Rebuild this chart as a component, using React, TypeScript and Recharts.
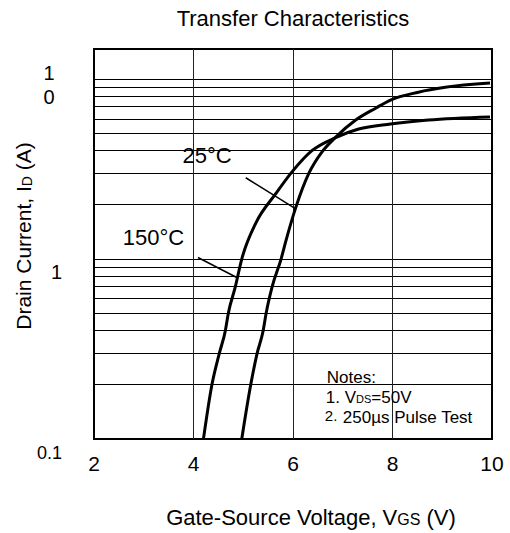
import React from 'react';
import { LineChart, Line, XAxis, YAxis, ReferenceLine, ReferenceArea, ReferenceDot } from 'recharts';

const FONT = '"Liberation Sans", Arial, Helvetica, sans-serif';

// axes
const xDomain = [2, 10];
const yDomain = [0.1, 14.7];
const xTicks = [2, 4, 6, 8, 10];
const yTicks = [0.1, 1, 10];
const yTickLabels = ['0.1', '1', '10'];
const hGrid = [0.2, 0.3, 0.4, 0.5, 0.6, 0.7, 0.8, 0.9, 1, 2, 3, 4, 5, 6, 7, 8, 9, 10];
const vGrid = [4, 6, 8];

// 150 °C curve
const vgs150 = [4.2, 4.37, 4.52, 4.64, 4.7, 4.84, 4.97, 5.25, 5.65, 5.98, 6.38, 6.88, 7.32, 7.96, 8.72, 9.96];
const id150 = [0.1, 0.2, 0.3, 0.4, 0.5, 0.7, 1.0, 1.58, 2.3, 3.05, 4.0, 4.76, 5.28, 5.63, 5.92, 6.16];

// 25 °C curve
const vgs25 = [4.97, 5.15, 5.28, 5.4, 5.46, 5.58, 5.76, 5.86, 6.06, 6.32, 6.58, 6.86, 7.26, 7.66, 7.96, 8.52, 9.06, 9.96];
const id25 = [0.1, 0.2, 0.3, 0.4, 0.5, 0.7, 1.0, 1.27, 1.95, 3.0, 3.93, 4.76, 5.92, 6.89, 7.65, 8.46, 9.0, 9.5];

const data150 = vgs150.map((x, i) => ({ x, y: id150[i] }));
const data25 = vgs25.map((x, i) => ({ x, y: id25[i] }));

// annotations (data coordinates)
const leader25 = [{ x: 5.05, y: 2.83 }, { x: 6.04, y: 1.91 }];
const leader150 = [{ x: 4.09, y: 1.02 }, { x: 4.87, y: 0.79 }];
const label25Pos = { x: 3.78, y: 3.41 };
const label150Pos = { x: 2.58, y: 1.2 };
const notesPos = { x: 6.68, y: 0.205 };
const box25 = { x1: 3.76, x2: 4.8, y1: 3.12, y2: 4.41 };
const boxNotes = { x1: 6.58, x2: 9.76, y1: 0.108, y2: 0.268 };

const XTick = (props: any) => {
  const { x, y, payload } = props;
  return (
    <text x={x} y={y + 32} textAnchor="middle" fontFamily={FONT} fontSize={21} fill="#000">
      {payload.value}
    </text>
  );
};

const YTick = (props: any) => {
  const { x, y, payload, index } = props;
  const label = yTickLabels[index] ?? String(payload.value);
  if (label.length === 2) {
    return (
      <g>
        <text x={x - 45} y={y + 1} textAnchor="middle" fontFamily={FONT} fontSize={20} fill="#000">{label[0]}</text>
        <text x={x - 45} y={y + 25} textAnchor="middle" fontFamily={FONT} fontSize={20} fill="#000">{label[1]}</text>
      </g>
    );
  }
  return (
    <text x={x - 32} y={y + 20} textAnchor="end" fontFamily={FONT} fontSize={label === '0.1' ? 18 : 20} fill="#000">
      {label}
    </text>
  );
};

const center = (vb: any) => ({ cx: vb.x + (vb.width || 0) / 2, cy: vb.y + (vb.height || 0) / 2 });

const TempLabel = (text: string) => (props: any) => {
  const { cx, cy } = center(props.viewBox);
  return (
    <text x={cx} y={cy} fontFamily={FONT} fontSize={22} fill="#000">{text}</text>
  );
};

const NotesLabel = (props: any) => {
  const { cx, cy } = center(props.viewBox);
  return (
    <g fontFamily={FONT} fill="#000">
      <text x={cx} y={cy} fontSize={17}>Notes:</text>
      <text x={cx - 1} y={cy + 20} fontSize={17}>
        1. V<tspan fontSize={11}>DS</tspan>=50V
      </text>
      <text x={cx - 2} y={cy + 38} fontSize={15}>2.</text>
      <text x={cx + 16} y={cy + 40} fontSize={17}>250µs Pulse Test</text>
    </g>
  );
};

const YAxisLabel = (props: any) => {
  const vb = props.viewBox;
  const cx = vb.x - 11;
  const cy = vb.y + vb.height / 2 - 8;
  return (
    <text x={cx} y={cy} transform={`rotate(-90 ${cx} ${cy})`} textAnchor="middle" dominantBaseline="central" fontFamily={FONT} fontSize={21} fill="#000">
      Drain Current, I<tspan fontSize={14} dy={4}>D</tspan><tspan dy={-4}> (A)</tspan>
    </text>
  );
};

const XAxisLabel = (props: any) => {
  const vb = props.viewBox;
  const cx = vb.x + vb.width / 2 + 18;
  return (
    <text x={cx} y={vb.y + 86} textAnchor="middle" fontFamily={FONT} fontSize={22} fill="#000">
      Gate-Source Voltage, V<tspan fontSize={16}>GS</tspan> (V)
    </text>
  );
};

export default function App() {
  return (
    <div style={{ position: 'absolute', left: 0, top: 0, width: 510, height: 533, background: '#fff' }}>
      <div
        style={{
          position: 'absolute',
          left: 94,
          width: 398,
          top: 6,
          textAlign: 'center',
          fontFamily: FONT,
          fontSize: 22,
          color: '#000',
          lineHeight: '26px',
        }}
      >
        Transfer Characteristics
      </div>
      <LineChart width={510} height={533} margin={{ top: 49, right: 18, bottom: 64, left: 34 }}>
        <XAxis
          type="number"
          dataKey="x"
          domain={xDomain}
          ticks={xTicks}
          allowDataOverflow
          axisLine={false}
          tickLine={false}
          tickSize={0}
          tickMargin={0}
          height={30}
          tick={<XTick />}
          label={<XAxisLabel />}
        />
        <YAxis
          type="number"
          dataKey="y"
          scale="log"
          domain={yDomain}
          ticks={yTicks}
          allowDataOverflow
          axisLine={false}
          tickLine={false}
          tickSize={0}
          tickMargin={0}
          width={60}
          tick={<YTick />}
          label={<YAxisLabel />}
        />
        {hGrid.map((v) => (
          <ReferenceLine key={'h' + v} y={v} stroke="#000" strokeWidth={1} shapeRendering="crispEdges" />
        ))}
        {vGrid.map((v) => (
          <ReferenceLine key={'v' + v} x={v} stroke="#222" strokeWidth={1} shapeRendering="crispEdges" />
        ))}
        <ReferenceArea {...box25} fill="#fff" fillOpacity={1} stroke="none" />
        <ReferenceArea {...boxNotes} fill="#fff" fillOpacity={1} stroke="none" />
        <ReferenceArea x1={xDomain[0]} x2={xDomain[1]} y1={yDomain[0]} y2={yDomain[1]} fill="none" stroke="#000" strokeWidth={2} />
        <Line data={data150} dataKey="y" type="monotone" stroke="#000" strokeWidth={3} dot={false} isAnimationActive={false} />
        <Line data={data25} dataKey="y" type="monotone" stroke="#000" strokeWidth={3} dot={false} isAnimationActive={false} />
        <ReferenceLine segment={leader25} stroke="#000" strokeWidth={1.5} />
        <ReferenceLine segment={leader150} stroke="#000" strokeWidth={1.5} />
        <ReferenceDot x={label25Pos.x} y={label25Pos.y} r={1} fill="none" stroke="none" label={TempLabel('25°C')} />
        <ReferenceDot x={label150Pos.x} y={label150Pos.y} r={1} fill="none" stroke="none" label={TempLabel('150°C')} />
        <ReferenceDot x={notesPos.x} y={notesPos.y} r={1} fill="none" stroke="none" label={NotesLabel} />
      </LineChart>
    </div>
  );
}
